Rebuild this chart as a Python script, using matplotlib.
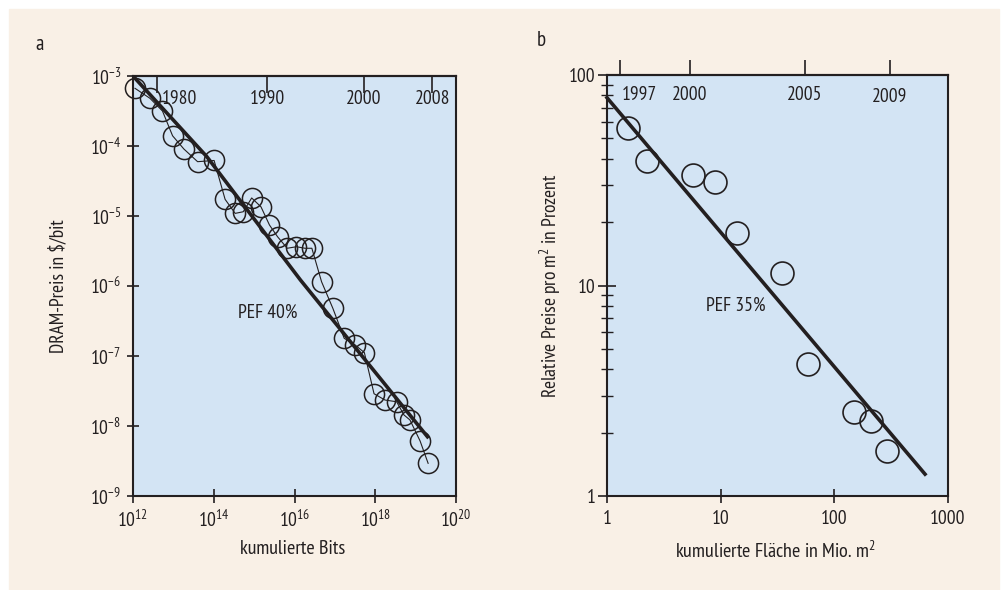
import matplotlib.pyplot as plt
from matplotlib.patches import Rectangle
from matplotlib.ticker import FixedLocator, NullLocator, LogLocator, FixedFormatter

FONT = "PT Sans Narrow"
plt.rcParams['font.family'] = [FONT, 'DejaVu Sans']
plt.rcParams['mathtext.fontset'] = 'custom'
plt.rcParams['mathtext.rm'] = FONT
plt.rcParams['mathtext.it'] = FONT
plt.rcParams['mathtext.default'] = 'regular'

INK = "#231f20"
CREAM = "#f9f0e6"
BLUE = "#d3e4f4"
FS = 14

# panel a: DRAM price vs cumulative bits
bits = [1.12e12, 2.63e12, 5.37e12, 9.55e12, 1.82e13, 3.98e13, 1.02e14, 1.91e14,
        3.39e14, 5.37e14, 8.71e14, 1.48e15, 2.40e15, 3.80e15, 6.61e15, 1.12e16,
        1.82e16, 2.69e16, 4.68e16, 8.91e16, 1.70e17, 3.16e17, 5.37e17, 9.33e17,
        1.74e18, 3.39e18, 5.13e18, 7.24e18, 1.29e19, 2.04e19]
dram_price = [6.67e-4, 4.80e-4, 3.16e-4, 1.40e-4, 9.06e-5, 5.97e-5, 6.21e-5, 1.73e-5,
              1.09e-5, 1.15e-5, 1.81e-5, 1.35e-5, 7.43e-6, 5.06e-6, 3.46e-6, 3.64e-6,
              3.46e-6, 3.46e-6, 1.15e-6, 4.80e-7, 1.79e-7, 1.44e-7, 1.12e-7, 2.89e-8,
              2.35e-8, 2.22e-8, 1.44e-8, 1.22e-8, 6.11e-9, 2.93e-9]
fit_bits = [1.0e12, 6.8e13, 1.4e16, 2.1e19]
fit_price = [1.0e-3, 7.0e-5, 1.22e-6, 6.7e-9]
years_a = ["1980", "1990", "2000", "2008"]
years_a_bits = [3.93e12, 2.09e15, 5.2e17, 2.57e19]

# panel b: relative price per m2 vs cumulative area
area = [1.52, 2.27, 5.71, 8.91, 13.8, 34.8, 58.3, 150, 211, 290]
rel_price = [56.2, 39.2, 33.5, 31.1, 17.7, 11.5, 4.22, 2.51, 2.27, 1.64]
fit_area = [1.0, 628]
fit_rel = [78, 1.27]
years_b = ["1997", "2000", "2005", "2009"]
years_b_area = [1.30, 5.37, 55.1, 308]

fig = plt.figure(figsize=(10.02, 5.90), dpi=100, facecolor="white")
fig.patches.append(Rectangle((9 / 1002, 0), 990 / 1002, 581 / 590,
                             transform=fig.transFigure, color=CREAM, zorder=-10))

ax1 = fig.add_axes([133 / 1002, 94 / 590, 323 / 1002, 420 / 590])
ax2 = fig.add_axes([607 / 1002, 94 / 590, 341 / 1002, 421 / 590])

for ax in (ax1, ax2):
    ax.set_facecolor(BLUE)
    ax.set_xscale("log")
    ax.set_yscale("log")
    for s in ax.spines.values():
        s.set_linewidth(1.5)
        s.set_color(INK)
    ax.xaxis.set_minor_locator(NullLocator())

# --- panel a
ax1.plot(bits, dram_price, color=INK, lw=0.8, marker="o", ms=14.5,
         mfc="none", mec=INK, mew=1.1, clip_on=False)
ax1.plot(fit_bits, fit_price, color=INK, lw=2.6, solid_capstyle="butt")
ax1.set_xlim(1e12, 1e20)
ax1.set_ylim(1e-9, 1e-3)
ax1.xaxis.set_major_locator(FixedLocator([1e12, 1e14, 1e16, 1e18, 1e20]))
ax1.yaxis.set_major_locator(LogLocator(base=10, numticks=10))
ax1.yaxis.set_minor_locator(NullLocator())
ax1.tick_params(axis="x", direction="inout", length=10, width=1.2,
                labelsize=FS, pad=5, colors=INK)
ax1.tick_params(axis="y", direction="inout", length=9, width=1.2,
                labelsize=FS, pad=4, colors=INK)
ax1.set_xlabel("kumulierte Bits", fontsize=14.5, color=INK)
ax1.xaxis.set_label_coords(0.495, -0.105)
ax1.set_ylabel("DRAM-Preis in $/bit", fontsize=FS, color=INK)
ax1.yaxis.set_label_coords(-0.205, 0.5)

top1 = ax1.secondary_xaxis("top")
top1.set_xticks(years_a_bits)
top1.xaxis.set_minor_locator(NullLocator())
top1.tick_params(direction="in", length=12, width=1.2, labeltop=False, colors=INK)
top1.spines["top"].set_linewidth(1.5)
for lab, xv in zip(years_a, years_a_bits):
    off = 3.5 if lab == "1980" else 0
    ax1.annotate(lab, (xv, 0.9445), xycoords=("data", "axes fraction"),
                 xytext=(off, 0), textcoords="offset points",
                 ha="left" if off else "center", va="center",
                 fontsize=FS, color=INK)
ax1.text(0.4164, 0.4357, "PEF 40%", transform=ax1.transAxes,
         ha="center", va="center", fontsize=FS, color=INK)

# --- panel b
ax2.plot(area, rel_price, ls="none", marker="o", ms=16.5, mfc="none",
         mec=INK, mew=1.2)
ax2.plot(fit_area, fit_rel, color=INK, lw=2.6, clip_on=False)
ax2.set_xlim(1, 1000)
ax2.set_ylim(1, 100)
ax2.xaxis.set_major_locator(FixedLocator([1, 10, 100, 1000]))
ax2.xaxis.set_major_formatter(FixedFormatter(["1", "10", "100", "1000"]))
ax2.yaxis.set_major_locator(FixedLocator([1, 10, 100]))
ax2.yaxis.set_major_formatter(FixedFormatter(["1", "10", "100"]))
ax2.yaxis.set_minor_locator(LogLocator(base=10, subs=range(2, 10), numticks=10))
ax2.tick_params(axis="x", direction="inout", length=10, width=1.2,
                labelsize=FS, pad=5, colors=INK)
ax2.tick_params(axis="y", which="major", direction="inout", length=13,
                width=1.2, labelsize=FS, pad=2, colors=INK)
ax2.tick_params(axis="y", which="minor", direction="inout", length=8,
                width=1.0, colors=INK)
ax2.yaxis.set_minor_formatter(FixedFormatter([]))
ax2.set_xlabel("kumulierte Fläche in Mio. m$^2$", fontsize=14.5, color=INK)
ax2.xaxis.set_label_coords(0.493, -0.105)
ax2.set_ylabel("Relative Preise pro m$^2$ in Prozent", fontsize=FS, color=INK)
ax2.yaxis.set_label_coords(-0.13, 0.5)

top2 = ax2.secondary_xaxis("top")
top2.set_xticks(years_b_area)
top2.xaxis.set_minor_locator(NullLocator())
top2.tick_params(direction="out", length=11, width=1.2, labeltop=False, colors=INK)
top2.spines["top"].set_linewidth(1.5)
for lab, xv in zip(years_b, years_b_area):
    off = 1 if lab == "1997" else 0
    yy = 0.947 if lab == "2009" else 0.9525
    ax2.annotate(lab, (xv, yy), xycoords=("data", "axes fraction"),
                 xytext=(off, 0), textcoords="offset points",
                 ha="left" if off else "center", va="center",
                 fontsize=FS, color=INK)
ax2.text(0.378, 0.451, "PEF 35%", transform=ax2.transAxes,
         ha="center", va="center", fontsize=FS, color=INK)

fig.text(40 / 1002, 1 - 45 / 590, "a", fontsize=15, color=INK, ha="center", va="center")
fig.text(541 / 1002, 1 - 40 / 590, "b", fontsize=15, color=INK, ha="center", va="center")

fig.savefig("out.png", dpi=100, facecolor=fig.get_facecolor())
